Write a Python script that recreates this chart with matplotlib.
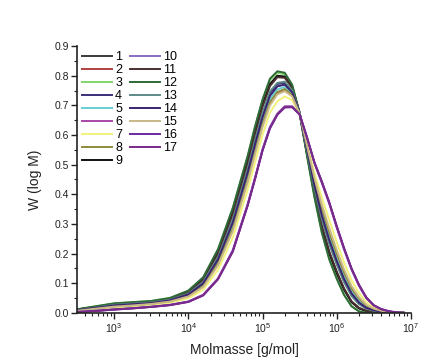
import numpy as np
import matplotlib.pyplot as plt
from matplotlib.ticker import LogLocator, MultipleLocator, NullFormatter

plt.rcParams['font.family'] = ['Liberation Sans', 'DejaVu Sans']

log_m = [2.5, 2.75, 3.0, 3.25, 3.5, 3.75, 4.0, 4.2, 4.4, 4.6, 4.8, 4.9, 5.0, 5.1, 5.2, 5.3,
         5.4, 5.5, 5.6, 5.7, 5.8, 5.9, 6.0, 6.1, 6.2, 6.3, 6.4, 6.5, 6.6, 6.7, 6.8, 6.9]

w1 = [0.011, 0.020, 0.030, 0.034, 0.038, 0.047, 0.071, 0.113, 0.203, 0.338, 0.510, 0.609, 0.700, 0.770, 0.798, 0.796,
      0.761, 0.674, 0.537, 0.404, 0.290, 0.203, 0.136, 0.079, 0.037, 0.016, 0.006, 0.003, 0.001, 0.001, 0.0, 0.0]
w2 = [0.008, 0.015, 0.022, 0.026, 0.031, 0.039, 0.057, 0.090, 0.165, 0.283, 0.448, 0.543, 0.635, 0.708, 0.743, 0.753,
      0.733, 0.673, 0.560, 0.448, 0.355, 0.275, 0.203, 0.138, 0.085, 0.049, 0.025, 0.013, 0.006, 0.003, 0.001, 0.0]
w3 = [0.012, 0.022, 0.032, 0.036, 0.040, 0.050, 0.074, 0.118, 0.212, 0.352, 0.527, 0.626, 0.716, 0.785, 0.810, 0.805,
      0.766, 0.673, 0.530, 0.392, 0.272, 0.182, 0.117, 0.061, 0.023, 0.005, 0.0, 0.0, 0.0, 0.0, 0.0, 0.0]
w4 = [0.009, 0.018, 0.026, 0.030, 0.034, 0.043, 0.064, 0.102, 0.185, 0.312, 0.481, 0.578, 0.669, 0.741, 0.772, 0.776,
      0.748, 0.674, 0.548, 0.425, 0.321, 0.237, 0.168, 0.107, 0.060, 0.031, 0.015, 0.008, 0.004, 0.002, 0.0, 0.0]
w5 = [0.008, 0.016, 0.024, 0.028, 0.032, 0.040, 0.060, 0.095, 0.173, 0.294, 0.461, 0.557, 0.649, 0.721, 0.754, 0.762,
      0.739, 0.673, 0.555, 0.438, 0.341, 0.260, 0.189, 0.125, 0.075, 0.042, 0.021, 0.011, 0.005, 0.002, 0.0, 0.0]
w6 = [0.003, 0.007, 0.012, 0.016, 0.021, 0.027, 0.038, 0.061, 0.116, 0.212, 0.367, 0.457, 0.552, 0.627, 0.672, 0.697,
      0.697, 0.671, 0.590, 0.505, 0.438, 0.368, 0.288, 0.213, 0.146, 0.091, 0.049, 0.024, 0.012, 0.005, 0.001, 0.0]
w7 = [0.006, 0.012, 0.018, 0.022, 0.027, 0.034, 0.049, 0.078, 0.145, 0.254, 0.415, 0.508, 0.601, 0.675, 0.714, 0.730,
      0.718, 0.672, 0.572, 0.471, 0.389, 0.313, 0.238, 0.169, 0.110, 0.067, 0.035, 0.018, 0.008, 0.004, 0.001, 0.0]
w8 = [0.008, 0.015, 0.022, 0.026, 0.031, 0.039, 0.058, 0.091, 0.167, 0.285, 0.450, 0.545, 0.637, 0.710, 0.745, 0.755,
      0.734, 0.673, 0.558, 0.446, 0.352, 0.272, 0.200, 0.136, 0.083, 0.048, 0.024, 0.012, 0.006, 0.003, 0.001, 0.0]
w9 = [0.011, 0.020, 0.030, 0.034, 0.038, 0.047, 0.071, 0.114, 0.205, 0.340, 0.512, 0.611, 0.702, 0.772, 0.800, 0.797,
      0.761, 0.674, 0.536, 0.402, 0.288, 0.201, 0.134, 0.078, 0.036, 0.015, 0.006, 0.003, 0.001, 0.0, 0.0, 0.0]
w10 = [0.003, 0.007, 0.012, 0.016, 0.021, 0.027, 0.038, 0.060, 0.115, 0.210, 0.365, 0.455, 0.550, 0.625, 0.670, 0.695,
       0.695, 0.670, 0.590, 0.505, 0.440, 0.370, 0.290, 0.215, 0.148, 0.093, 0.050, 0.025, 0.012, 0.005, 0.001, 0.0]
w11 = [0.011, 0.020, 0.029, 0.033, 0.037, 0.046, 0.070, 0.111, 0.200, 0.334, 0.505, 0.604, 0.695, 0.765, 0.795, 0.793,
       0.760, 0.674, 0.539, 0.407, 0.294, 0.207, 0.140, 0.082, 0.039, 0.017, 0.007, 0.003, 0.001, 0.001, 0.0, 0.0]
w12 = [0.012, 0.022, 0.032, 0.036, 0.040, 0.050, 0.075, 0.120, 0.215, 0.355, 0.530, 0.630, 0.720, 0.790, 0.815, 0.810,
       0.770, 0.675, 0.530, 0.390, 0.270, 0.180, 0.115, 0.060, 0.022, 0.005, 0.0, 0.0, 0.0, 0.0, 0.0, 0.0]
w13 = [0.009, 0.018, 0.027, 0.031, 0.035, 0.044, 0.065, 0.104, 0.188, 0.316, 0.486, 0.583, 0.674, 0.747, 0.776, 0.780,
       0.750, 0.674, 0.545, 0.421, 0.316, 0.232, 0.163, 0.103, 0.057, 0.029, 0.014, 0.007, 0.003, 0.001, 0.0, 0.0]
w14 = [0.009, 0.017, 0.025, 0.029, 0.033, 0.042, 0.062, 0.099, 0.180, 0.305, 0.473, 0.569, 0.660, 0.732, 0.764, 0.770,
       0.744, 0.674, 0.551, 0.430, 0.329, 0.246, 0.176, 0.114, 0.066, 0.035, 0.017, 0.009, 0.004, 0.002, 0.0, 0.0]
w15 = [0.007, 0.014, 0.021, 0.025, 0.030, 0.038, 0.055, 0.087, 0.160, 0.276, 0.440, 0.535, 0.627, 0.700, 0.737, 0.748,
       0.730, 0.673, 0.563, 0.455, 0.365, 0.285, 0.212, 0.146, 0.091, 0.053, 0.027, 0.014, 0.007, 0.003, 0.001, 0.0]
w16 = [0.003, 0.007, 0.011, 0.015, 0.020, 0.026, 0.037, 0.059, 0.113, 0.207, 0.362, 0.452, 0.547, 0.622, 0.668, 0.693,
       0.694, 0.670, 0.592, 0.508, 0.443, 0.373, 0.293, 0.218, 0.150, 0.095, 0.052, 0.026, 0.013, 0.006, 0.002, 0.0]
w17 = [0.003, 0.006, 0.011, 0.015, 0.020, 0.026, 0.037, 0.059, 0.114, 0.208, 0.363, 0.453, 0.548, 0.623, 0.669, 0.694,
       0.694, 0.669, 0.591, 0.507, 0.442, 0.372, 0.292, 0.217, 0.149, 0.094, 0.051, 0.025, 0.012, 0.005, 0.001, 0.0]

series = [w1, w2, w3, w4, w5, w6, w7, w8, w9, w10, w11, w12, w13, w14, w15, w16, w17]
labels = [str(i) for i in range(1, 18)]
colors = ['#3a3a3a', '#b04040', '#7fd66a', '#3b2f7a', '#66d0d8', '#a845a8', '#f2f27a', '#8e8a3c', '#111111',
          '#8a6cc0', '#4a2f2f', '#2f6a38', '#5f8a88', '#3a2470', '#c8b888', '#6a2aa0', '#7a2a8a']

mass = 10 ** np.array(log_m)

fig = plt.figure(figsize=(4.28, 3.6), dpi=100)
ax = fig.add_axes([0.18, 0.131, 0.78, 0.741])

for w, lab, c in zip(series, labels, colors):
    ax.plot(mass, w, color=c, lw=1.4, label=lab, solid_joinstyle='round')

ax.set_xscale('log')
ax.set_xlim(10 ** 2.5, 1e7)
ax.set_ylim(0, 0.9)
ax.yaxis.set_major_locator(MultipleLocator(0.1))
ax.yaxis.set_minor_locator(MultipleLocator(0.05))
ax.yaxis.set_major_formatter(plt.FormatStrFormatter('%.1f'))
ax.xaxis.set_major_locator(LogLocator(base=10, numticks=10))
ax.xaxis.set_minor_locator(LogLocator(base=10, subs=np.arange(2, 10), numticks=20))
ax.xaxis.set_minor_formatter(NullFormatter())

for s in ['top', 'right']:
    ax.spines[s].set_visible(False)
for s in ['left', 'bottom']:
    ax.spines[s].set_linewidth(1.2)
    ax.spines[s].set_color('#222222')

ax.tick_params(which='major', direction='out', length=4, width=1, labelsize=7.5, colors='#222222', pad=2)
ax.tick_params(which='minor', direction='out', length=2, width=0.8, colors='#222222')

ax.set_xlabel('Molmasse [g/mol]', fontsize=10, color='#222222', labelpad=6)
ax.set_ylabel('W (log M)', fontsize=10, color='#222222', labelpad=9)

ax.legend(ncol=2, loc='upper left', bbox_to_anchor=(0.0, 1.0), frameon=False, fontsize=9,
          handlelength=2.4, handletextpad=0.25, columnspacing=0.6, labelspacing=0.08,
          borderaxespad=0.3, borderpad=0.1)

fig.savefig('out.png', dpi=100)
